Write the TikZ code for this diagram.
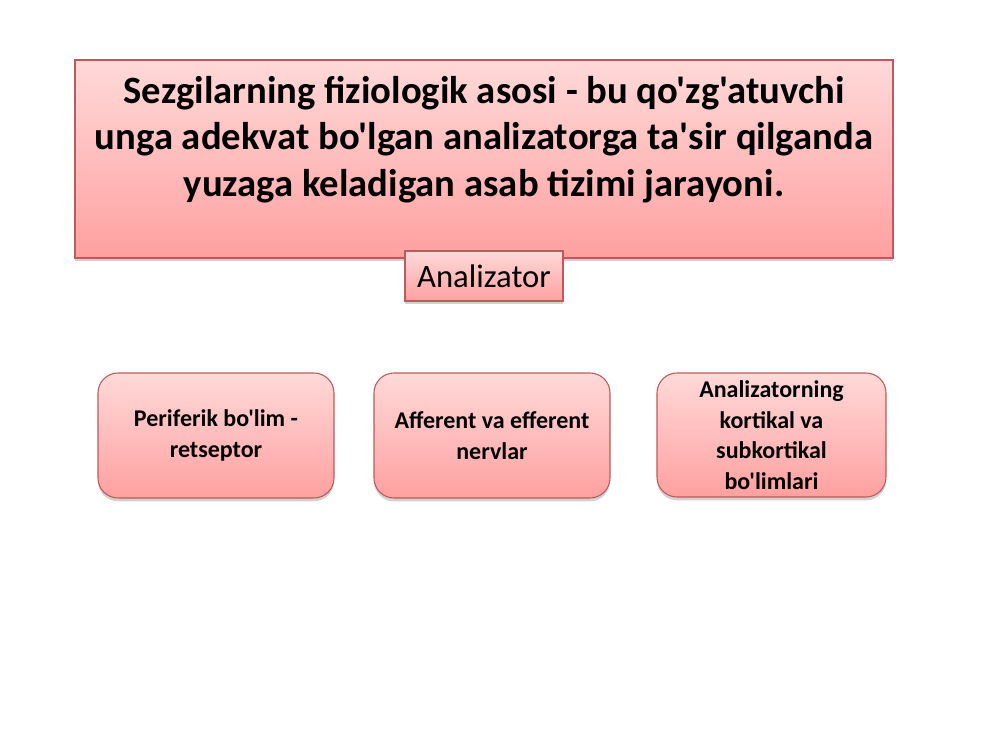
\documentclass[tikz,border=0pt]{standalone}
\usepackage{fontspec}
\setmainfont{Carlito}[Ligatures=TeXOff]
\usetikzlibrary{shadows}
\definecolor{pinktop}{HTML}{FFD9D9}
\definecolor{pinkbot}{HTML}{FFA0A0}
\definecolor{pinkedge}{HTML}{BE5A5A}
\tikzset{
  pinkbox/.style={draw=pinkedge, line width=0.8pt, top color=pinktop, bottom color=pinkbot,
    drop shadow={shadow xshift=0pt, shadow yshift=-2.5pt, opacity=0.18, fill=black}},
  roundbox/.style={pinkbox, rounded corners=15pt, align=center,
    font=\fontsize{18}{22.9}\selectfont\bfseries, inner sep=0pt}
}
\begin{document}
\begin{tikzpicture}[x=0.75pt, y=-0.75pt]
\useasboundingbox (0,0) rectangle (1000,750);
\node[pinkbox, minimum width=613.5pt, minimum height=148.5pt, inner sep=0pt] (title) at (484,159) {};
\node[align=center, font=\fontsize{29}{35}\selectfont\bfseries] (titletext) at (484,139.5)
  {Sezgilarning fiziologik asosi - bu qo'zg'atuvchi\\unga adekvat bo'lgan analizatorga ta'sir qilganda\\yuzaga keladigan asab tizimi jarayoni.};
\node[pinkbox, minimum width=118.5pt, minimum height=37.5pt, inner sep=0pt, font=\fontsize{24.5}{29}\selectfont] (anal) at (484,276) {Analizator};
\node[roundbox, minimum width=177pt, minimum height=93.75pt] (b1) at (216,435.5) {Periferik bo'lim -\\retseptor};
\node[roundbox, minimum width=177pt, minimum height=93.75pt] (b2) at (492,435.5) {Afferent va efferent\\nervlar};
\node[roundbox, minimum width=171.75pt, minimum height=93pt] (b3) at (771.5,435) {Analizatorning\\kortikal va\\subkortikal\\bo'limlari};
\end{tikzpicture}
\end{document}
